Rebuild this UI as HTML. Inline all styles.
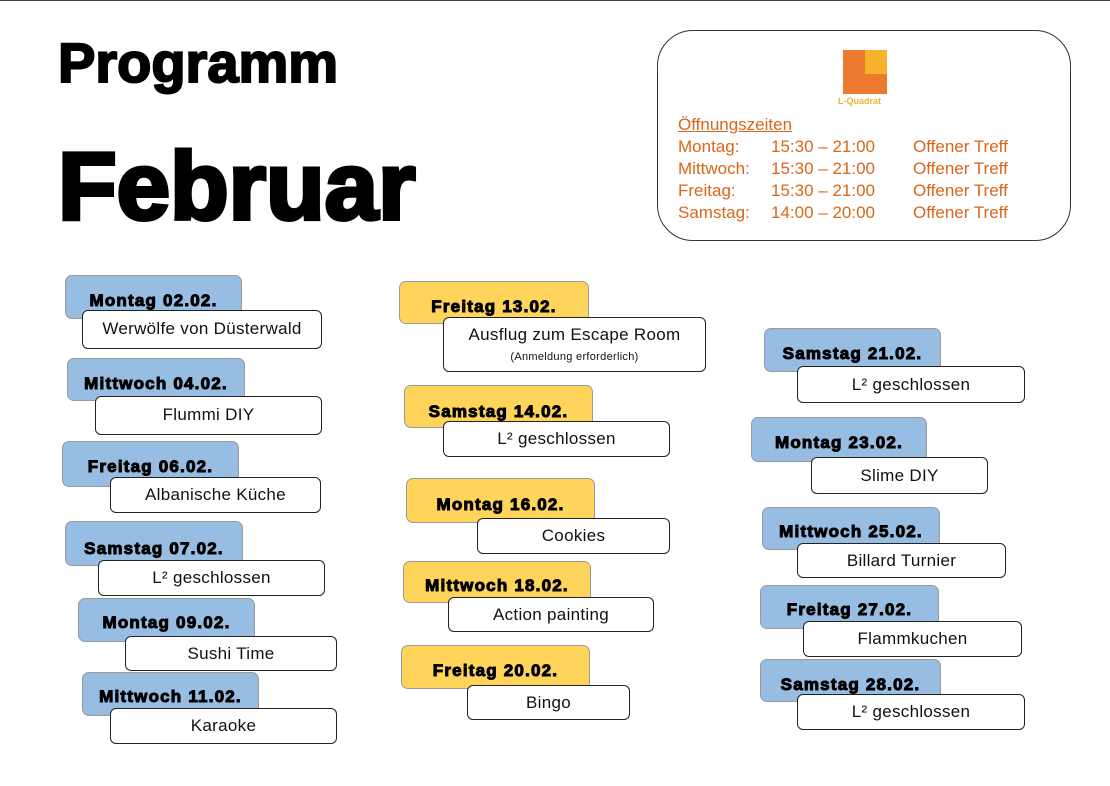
<!DOCTYPE html>
<html><head><meta charset="utf-8"><style>
body{margin:0;width:1110px;height:786px;background:#fff;position:relative;overflow:hidden;font-family:"Liberation Sans",sans-serif}
.top{position:absolute;left:0;top:0;width:1110px;height:1px;background:#444}
.h{position:absolute;font-weight:bold;color:#000;-webkit-text-stroke:2px #000;white-space:nowrap}
.t{position:absolute;border:1.5px solid #9a9a9a;border-radius:7px;box-sizing:border-box;font-weight:bold;font-size:17px;-webkit-text-stroke:1px #000;text-align:center;letter-spacing:1.2px;white-space:nowrap}
.b{background:#98bde3}.y{background:#ffd45a}
.w{position:absolute;background:#fff;border:1.3px solid #222;border-radius:6px;box-sizing:border-box;font-size:17px;text-align:center;color:#111;white-space:nowrap;letter-spacing:0.3px}
.info{position:absolute;left:657px;top:30px;width:414px;height:211px;border:1.3px solid #333;border-radius:36px;box-sizing:border-box}
.o{position:absolute;color:#d9661a;font-size:17px;white-space:nowrap}
</style></head><body>
<div class="top"></div>
<div class="h" style="left:58px;top:30px;font-size:56px;letter-spacing:0px">Programm</div>
<div class="h" style="left:58px;top:132px;font-size:96px;letter-spacing:0px;-webkit-text-stroke:4px #000">Februar</div>

<div class="info"></div>
<div style="position:absolute;left:843px;top:50px;width:44px;height:44px;background:#ec7a2e"></div>
<div style="position:absolute;left:865px;top:50px;width:22px;height:24px;background:#f7b12c"></div>
<div class="o" style="left:838px;top:96px;font-size:9px;font-weight:bold;color:#f0b23a">L-Quadrat</div>
<div class="o" style="left:678px;top:115px;text-decoration:underline">Öffnungszeiten</div>
<div class="o" style="left:678px;top:137px">Montag:</div><div class="o" style="left:771px;top:137px">15:30 – 21:00</div><div class="o" style="left:913px;top:137px">Offener Treff</div>
<div class="o" style="left:678px;top:159px">Mittwoch:</div><div class="o" style="left:771px;top:159px">15:30 – 21:00</div><div class="o" style="left:913px;top:159px">Offener Treff</div>
<div class="o" style="left:678px;top:181px">Freitag:</div><div class="o" style="left:771px;top:181px">15:30 – 21:00</div><div class="o" style="left:913px;top:181px">Offener Treff</div>
<div class="o" style="left:678px;top:203px">Samstag:</div><div class="o" style="left:771px;top:203px">14:00 – 20:00</div><div class="o" style="left:913px;top:203px">Offener Treff</div>

<!-- col1 -->
<div class="t b" style="left:65px;top:275px;width:177px;height:44px;padding-top:15px">Montag 02.02.</div>
<div class="w" style="left:82px;top:310px;width:240px;height:39px;line-height:36px">Werwölfe von Düsterwald</div>
<div class="t b" style="left:67px;top:358px;width:178px;height:43px;padding-top:15px">Mittwoch 04.02.</div>
<div class="w" style="left:95px;top:396px;width:227px;height:39px;line-height:36px">Flummi DIY</div>
<div class="t b" style="left:62px;top:441px;width:177px;height:46px;padding-top:15px">Freitag 06.02.</div>
<div class="w" style="left:110px;top:477px;width:211px;height:36px;line-height:34px">Albanische Küche</div>
<div class="t b" style="left:65px;top:521px;width:178px;height:45px;padding-top:17px">Samstag 07.02.</div>
<div class="w" style="left:98px;top:560px;width:227px;height:36px;line-height:34px">L² geschlossen</div>
<div class="t b" style="left:78px;top:598px;width:177px;height:44px;padding-top:14px">Montag 09.02.</div>
<div class="w" style="left:125px;top:636px;width:212px;height:35px;line-height:33px">Sushi Time</div>
<div class="t b" style="left:82px;top:672px;width:177px;height:44px;padding-top:14px">Mittwoch 11.02.</div>
<div class="w" style="left:110px;top:708px;width:227px;height:36px;line-height:34px">Karaoke</div>

<!-- col2 -->
<div class="t y" style="left:399px;top:281px;width:190px;height:43px;padding-top:15px">Freitag 13.02.</div>
<div class="w" style="left:443px;top:317px;width:263px;height:55px;line-height:20px;padding-top:7px">Ausflug zum Escape Room<br><span style="font-size:11px">(Anmeldung erforderlich)</span></div>
<div class="t y" style="left:404px;top:385px;width:189px;height:43px;padding-top:16px">Samstag 14.02.</div>
<div class="w" style="left:443px;top:421px;width:227px;height:36px;line-height:34px">L² geschlossen</div>
<div class="t y" style="left:406px;top:478px;width:189px;height:45px;padding-top:16px">Montag 16.02.</div>
<div class="w" style="left:477px;top:518px;width:193px;height:36px;line-height:34px">Cookies</div>
<div class="t y" style="left:403px;top:561px;width:188px;height:42px;padding-top:14px">Mittwoch 18.02.</div>
<div class="w" style="left:448px;top:597px;width:206px;height:35px;line-height:33px">Action painting</div>
<div class="t y" style="left:401px;top:645px;width:189px;height:44px;padding-top:15px">Freitag 20.02.</div>
<div class="w" style="left:467px;top:685px;width:163px;height:35px;line-height:33px">Bingo</div>

<!-- col3 -->
<div class="t b" style="left:764px;top:328px;width:177px;height:44px;padding-top:15px">Samstag 21.02.</div>
<div class="w" style="left:797px;top:366px;width:228px;height:37px;line-height:35px">L² geschlossen</div>
<div class="t b" style="left:751px;top:417px;width:176px;height:45px;padding-top:15px">Montag 23.02.</div>
<div class="w" style="left:811px;top:457px;width:177px;height:37px;line-height:35px">Slime DIY</div>
<div class="t b" style="left:762px;top:507px;width:178px;height:43px;padding-top:14px">Mittwoch 25.02.</div>
<div class="w" style="left:797px;top:543px;width:209px;height:35px;line-height:33px">Billard Turnier</div>
<div class="t b" style="left:760px;top:585px;width:179px;height:44px;padding-top:14px">Freitag 27.02.</div>
<div class="w" style="left:803px;top:621px;width:219px;height:36px;line-height:34px">Flammkuchen</div>
<div class="t b" style="left:760px;top:659px;width:181px;height:43px;padding-top:15px">Samstag 28.02.</div>
<div class="w" style="left:797px;top:694px;width:228px;height:36px;line-height:34px">L² geschlossen</div>
</body></html>
